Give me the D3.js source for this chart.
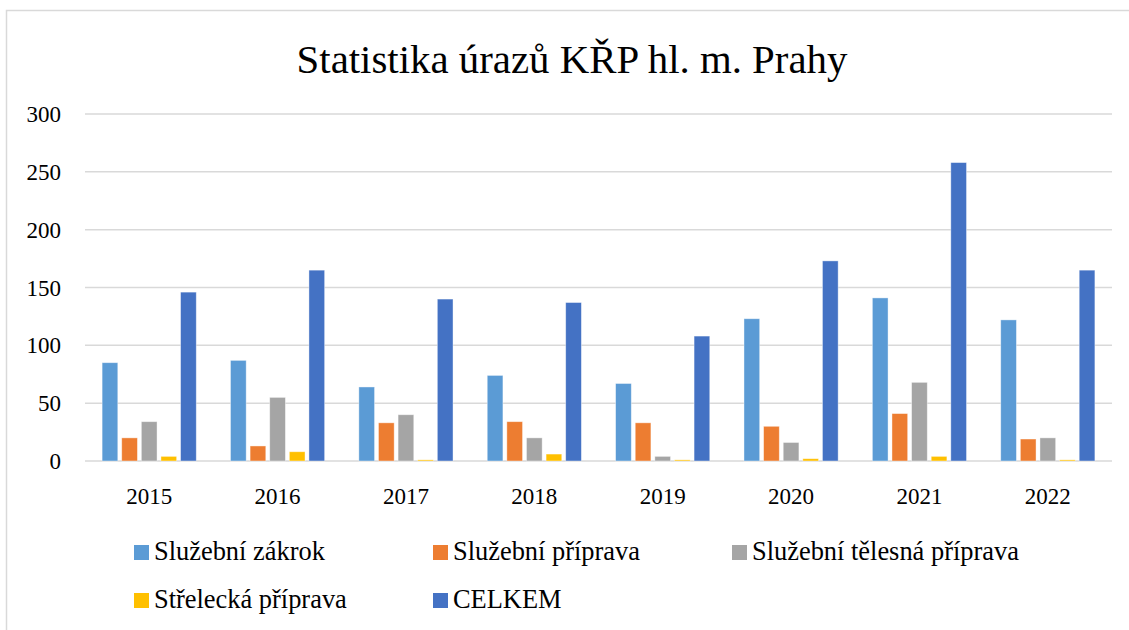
<!DOCTYPE html>
<html>
<head>
<meta charset="utf-8">
<script src="https://cdn.jsdelivr.net/npm/d3@7"></script>
<style>
  body { margin: 0; background: #fff; }
</style>
</head>
<body>
<svg id="chart"></svg>
<script>
// data
const years = ['2015', '2016', '2017', '2018', '2019', '2020', '2021', '2022'];
const seriesNames = ['Služební zákrok', 'Služební příprava', 'Služební tělesná příprava', 'Střelecká příprava', 'CELKEM'];
const zakrok   = [85, 87, 64, 74, 67, 123, 141, 122];
const priprava = [20, 13, 33, 34, 33, 30, 41, 19];
const telesna  = [34, 55, 40, 20, 4, 16, 68, 20];
const strelecka = [4, 8, 1, 6, 1, 2, 4, 1];
const celkem   = [146, 165, 140, 137, 108, 173, 258, 165];
const yTicks = [0, 50, 100, 150, 200, 250, 300];
const colors = ['#5B9BD5', '#ED7D31', '#A5A5A5', '#FFC000', '#4472C4'];

const FONT = '"Liberation Serif"';
const width = 1129, height = 630;
const margin = {top: 114, right: 17, bottom: 169, left: 85};

const svg = d3.select('#chart')
    .attr('width', width)
    .attr('height', height);

// font size that makes a sample string about as wide as in the original
function fitSize(sample, targetWidth) {
    let t = svg.append('text').style('font-family', FONT).style('font-size', '20px').text(sample);
    let w = t.node().getComputedTextLength();
    t.remove();
    return 20 * targetWidth / w;
}
const titleSize = fitSize('Statistika úrazů KŘP hl. m. Prahy', 551);
const tickSize = fitSize('2015', 46);
const legendSize = fitSize('Služební zákrok', 171);

// outer frame
svg.append('rect')
    .attr('x', 6.5).attr('y', 10.5)
    .attr('width', width + 10).attr('height', height + 10)
    .attr('fill', 'none')
    .attr('stroke', '#d9d9d9')
    .attr('stroke-width', 1.5);

const allSeries = [zakrok, priprava, telesna, strelecka, celkem];
const rows = years.map((y, i) => ({year: y, values: allSeries.map(s => s[i])}));

const x0 = d3.scaleBand()
    .domain(years)
    .range([margin.left, width - margin.right])
    .paddingInner(0.236)
    .paddingOuter(0.118);

const x1 = d3.scaleBand()
    .domain(d3.range(seriesNames.length))
    .range([0, x0.bandwidth()])
    .paddingInner(0.2)
    .paddingOuter(0.1);

const y = d3.scaleLinear()
    .domain([0, 300])
    .range([height - margin.bottom, margin.top]);

// gridlines
svg.append('g')
    .selectAll('line')
    .data(yTicks)
    .join('line')
    .attr('x1', margin.left)
    .attr('x2', width - margin.right)
    .attr('y1', d => y(d))
    .attr('y2', d => y(d))
    .attr('stroke', '#d9d9d9')
    .attr('stroke-width', 1.5);

// bars
svg.append('g')
    .selectAll('g')
    .data(rows)
    .join('g')
    .attr('transform', d => `translate(${x0(d.year)},0)`)
    .selectAll('rect')
    .data(d => d.values)
    .join('rect')
    .attr('x', (d, i) => x1(i))
    .attr('width', x1.bandwidth())
    .attr('y', d => y(d))
    .attr('height', d => y(0) - y(d))
    .attr('fill', (d, i) => colors[i])
    .attr('stroke', '#fff')
    .attr('stroke-opacity', 0.5)
    .attr('stroke-width', 0.8);

// y axis
let yAxis = g => g.attr('transform', `translate(${margin.left - 24},0)`)
    .call(d3.axisLeft(y).tickValues(yTicks).tickSize(0).tickPadding(0))
    .call(g => g.select('.domain').remove())
    .call(g => g.attr('font-family', null).attr('font-size', null))
    .call(g => g.selectAll('text')
        .style('font-family', FONT)
        .style('font-size', tickSize + 'px')
        .attr('fill', '#000')
        .attr('dy', '0.33em'));
svg.append('g').call(yAxis);

// x axis
let xAxis = g => g.attr('transform', `translate(0,${height - margin.bottom})`)
    .call(d3.axisBottom(x0).tickSize(0).tickPadding(0))
    .call(g => g.select('.domain').remove())
    .call(g => g.attr('font-family', null).attr('font-size', null))
    .call(g => g.selectAll('text')
        .style('font-family', FONT)
        .style('font-size', tickSize + 'px')
        .attr('fill', '#000')
        .attr('y', 43)
        .attr('dy', 0));
svg.append('g').call(xAxis);

// title
svg.append('text')
    .attr('x', 572)
    .attr('y', 73)
    .attr('text-anchor', 'middle')
    .style('font-family', FONT)
    .style('font-size', titleSize + 'px')
    .text('Statistika úrazů KŘP hl. m. Prahy');

// legend
const legendPos = [[134, 545], [433, 545], [732, 545], [134, 593], [433, 593]];
const legend = svg.append('g')
    .selectAll('g')
    .data(seriesNames)
    .join('g')
    .attr('transform', (d, i) => `translate(${legendPos[i][0]},${legendPos[i][1]})`);
legend.append('rect')
    .attr('width', 15).attr('height', 15)
    .attr('fill', (d, i) => colors[i]);
legend.append('text')
    .attr('x', 20)
    .attr('y', 15)
    .style('font-family', FONT)
    .style('font-size', legendSize + 'px')
    .text(d => d);
</script>
</body>
</html>
